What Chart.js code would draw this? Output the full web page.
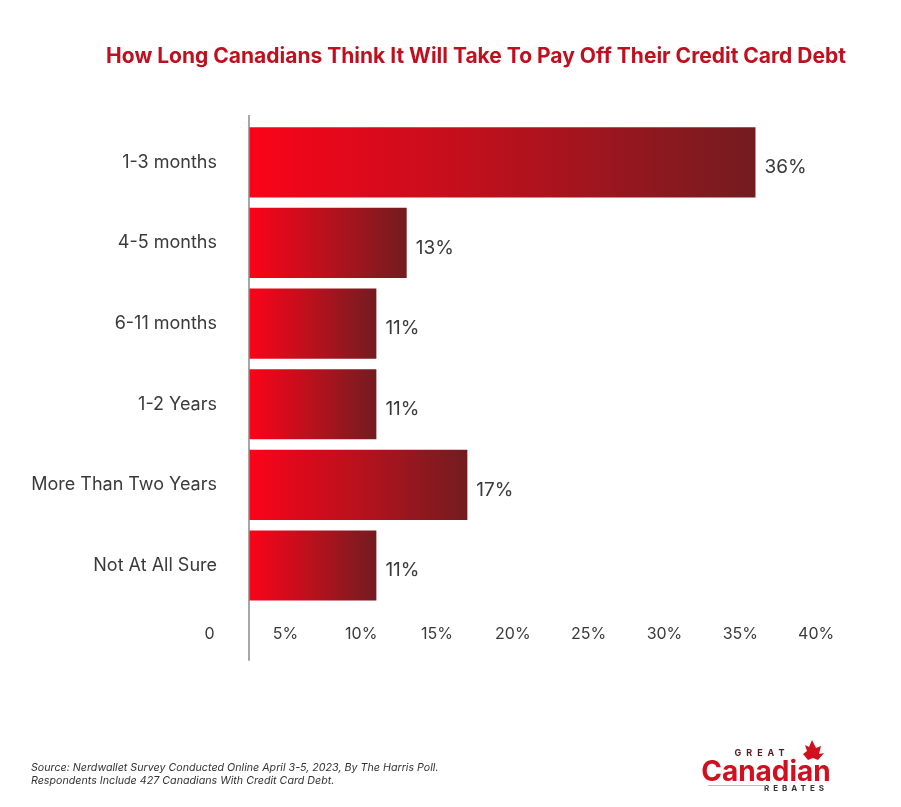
<!DOCTYPE html>
<html>
<head>
<meta charset="utf-8">
<script src="https://cdn.jsdelivr.net/npm/chart.js@4.4.1/dist/chart.umd.min.js"></script>
<style>
  html, body { margin: 0; padding: 0; background: #ffffff; }
  #wrap { width: 901px; height: 807px; position: relative; }
</style>
</head>
<body>
<div id="wrap"><canvas id="c" width="901" height="807"></canvas></div>
<script>
const categories = ["1-3 months", "4-5 months", "6-11 months", "1-2 Years", "More Than Two Years", "Not At All Sure"];
const values = [36, 13, 11, 11, 17, 11];
const tickValues = [0, 5, 10, 15, 20, 25, 30, 35, 40];
const tickLabels = ["0", "5%", "10%", "15%", "20%", "25%", "30%", "35%", "40%"];
const titleText = "How Long Canadians Think It Will Take To Pay Off Their Credit Card Debt";
const sourceLines = [
  "Source: Nerdwallet Survey Conducted Online April 3-5, 2023, By The Harris Poll.",
  "Respondents Include 427 Canadians With Credit Card Debt."
];

const FONT = "Inter, 'Open Sans', 'DejaVu Sans', sans-serif";

const decorPlugin = {
  id: 'decor',
  afterDatasetsDraw(chart) {
    const ctx = chart.ctx;
    const area = chart.chartArea;
    const meta = chart.getDatasetMeta(0);
    ctx.save();
    ctx.fillStyle = '#3a3a3a';
    ctx.font = "19px " + FONT;
    ctx.textAlign = 'left';
    ctx.textBaseline = 'middle';
    meta.data.forEach((bar, i) => {
      ctx.fillText(values[i] + '%', bar.x + 9, bar.y + 5);
    });
    ctx.strokeStyle = '#8a8a8a';
    ctx.lineWidth = 1.5;
    ctx.beginPath();
    ctx.moveTo(area.left, area.top - 7);
    ctx.lineTo(area.left, area.bottom + 55);
    ctx.stroke();
    ctx.restore();
  },
  afterDraw(chart) {
    const ctx = chart.ctx;
    ctx.save();
    ctx.fillStyle = '#c0101f';
    ctx.font = "bold 21px " + FONT;
    ctx.textAlign = 'center';
    ctx.textBaseline = 'middle';
    ctx.fillText(titleText, 476, 57);
    ctx.fillStyle = '#333333';
    ctx.font = "italic 10.7px " + FONT;
    ctx.textAlign = 'left';
    ctx.textBaseline = 'alphabetic';
    ctx.fillText(sourceLines[0], 31, 771);
    ctx.fillText(sourceLines[1], 31, 784);
    ctx.textAlign = 'center';
    ctx.fillStyle = '#5a1a1e';
    ctx.font = "bold 9px " + FONT;
    ctx.letterSpacing = '5px';
    ctx.fillText("GREAT", 762, 756);
    ctx.fillStyle = '#d0101e';
    ctx.letterSpacing = '0px';
    ctx.font = "bold 28px " + FONT;
    ctx.fillText("Canadian", 766, 781);
    ctx.fillStyle = '#333';
    ctx.font = "bold 8px " + FONT;
    ctx.letterSpacing = '4px';
    ctx.fillText("REBATES", 796, 791);
    ctx.letterSpacing = '0px';
    ctx.strokeStyle = '#bbbbbb';
    ctx.lineWidth = 1;
    ctx.beginPath();
    ctx.moveTo(708, 785.5); ctx.lineTo(766, 785.5); ctx.stroke();
    ctx.fillStyle = '#d0101e';
    ctx.beginPath();
    ctx.moveTo(812, 740);
    ctx.lineTo(816, 748); ctx.lineTo(821, 746); ctx.lineTo(819, 754);
    ctx.lineTo(824, 753); ctx.lineTo(818, 760); ctx.lineTo(813, 758);
    ctx.lineTo(808, 760); ctx.lineTo(803, 754); ctx.lineTo(807, 751);
    ctx.lineTo(805, 745); ctx.lineTo(809, 747);
    ctx.closePath();
    ctx.fill();
    ctx.restore();
  }
};

function barGradient(context) {
  const chart = context.chart;
  const area = chart.chartArea;
  if (!area || context.dataIndex === undefined) return '#e0101e';
  const xs = chart.scales.x;
  const end = xs.getPixelForValue(values[context.dataIndex]);
  const g = chart.ctx.createLinearGradient(area.left, 0, end, 0);
  g.addColorStop(0, '#fb0319');
  g.addColorStop(0.5, '#b8111d');
  g.addColorStop(1, '#731c20');
  return g;
}

new Chart(document.getElementById('c'), {
  type: 'bar',
  data: {
    labels: categories,
    datasets: [{
      data: values,
      backgroundColor: barGradient,
      borderWidth: 0,
      barPercentage: 0.87,
      categoryPercentage: 1.0
    }]
  },
  plugins: [decorPlugin],
  options: {
    indexAxis: 'y',
    responsive: false,
    animation: false,
    devicePixelRatio: 1,
    layout: { padding: { top: 122, right: 50, bottom: 144, left: 0 } },
    plugins: { legend: { display: false }, tooltip: { enabled: false }, title: { display: false } },
    scales: {
      x: {
        type: 'linear',
        min: 2.6,
        max: 42.3,
        grid: { display: false, drawTicks: false },
        border: { display: false },
        afterBuildTicks(scale) { scale.ticks = tickValues.map(v => ({ value: v })); },
        ticks: {
          autoSkip: false,
          maxRotation: 0,
          padding: 19,
          color: '#3a3a3a',
          font: { family: FONT, size: 16 },
          callback: function(value) { const i = tickValues.indexOf(value); return i >= 0 ? tickLabels[i] : ''; }
        }
      },
      y: {
        grid: { display: false, drawTicks: false },
        border: { display: false },
        afterFit(scale) { scale.width = 249; },
        ticks: {
          padding: 32,
          color: '#3a3a3a',
          font: { family: FONT, size: 18 }
        }
      }
    }
  }
});
</script>
</body>
</html>
